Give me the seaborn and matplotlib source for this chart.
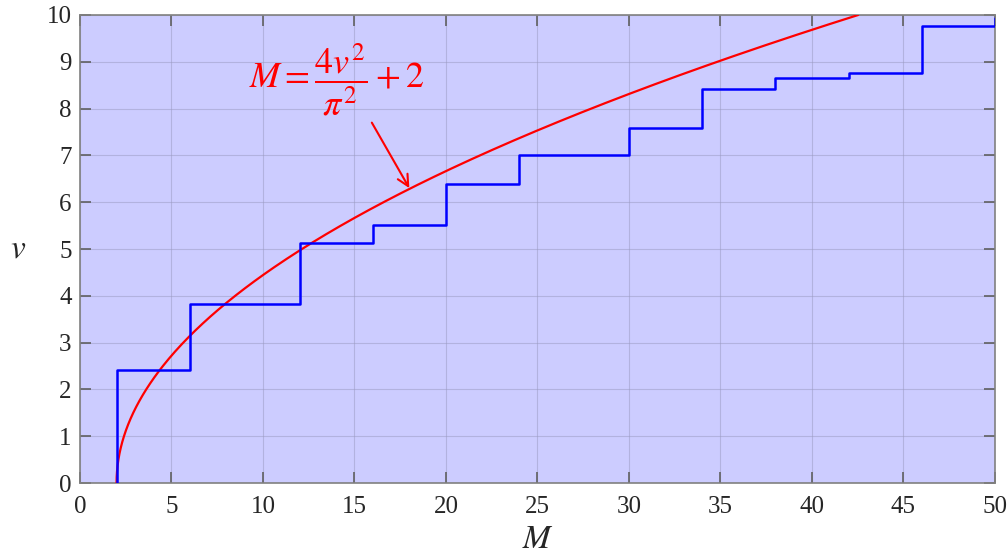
import numpy as np
import pandas as pd
import matplotlib
matplotlib.use("Agg")
import matplotlib.pyplot as plt
import seaborn as sns

# mode counts (M) and cutoff values (v)
step_M = [2, 2, 6, 12, 16, 20, 24, 30, 34, 38, 42, 46, 50]
step_v = [0, 2.405, 3.832, 5.136, 5.520, 6.380, 7.016, 7.588, 8.417, 8.654, 8.771, 9.761, 9.936]

# red curve: M = 4 v^2 / pi^2 + 2
curve_v = np.linspace(0, 10, 400)
curve_M = 4 * curve_v ** 2 / np.pi ** 2 + 2

x_ticks = [0, 5, 10, 15, 20, 25, 30, 35, 40, 45, 50]
y_ticks = [0, 1, 2, 3, 4, 5, 6, 7, 8, 9, 10]

sns.set_style("ticks")
plt.rcParams["font.family"] = ["Liberation Serif", "DejaVu Serif"]
plt.rcParams["mathtext.fontset"] = "stix"

steps = pd.DataFrame({"M": step_M, "v": step_v})
curve = pd.DataFrame({"M": curve_M, "v": curve_v})

fig = plt.figure(figsize=(10.07, 5.55), dpi=100)
ax = fig.add_axes([0.0794, 0.1297, 0.9086, 0.8433])
ax.set_facecolor("#ccccff")

sns.lineplot(data=curve, x="M", y="v", sort=False, estimator=None,
             color="#ff0000", linewidth=1.6, ax=ax, zorder=3)
sns.lineplot(data=steps, x="M", y="v", sort=False, estimator=None,
             drawstyle="steps-post", color="#0000ff", linewidth=1.8, ax=ax, zorder=4)

ax.set_xlim(0, 50)
ax.set_ylim(0, 10)
ax.set_xticks(x_ticks)
ax.set_yticks(y_ticks)
ax.grid(True, color="#9a9ac0", linewidth=0.8, alpha=0.5)
ax.tick_params(direction="in", length=8, width=1.2, color="#606060",
               top=True, right=True, labelsize=18)
ax.tick_params(axis="x", pad=9)
ax.tick_params(axis="y", pad=6)
for sp in ax.spines.values():
    sp.set_color("#808080")
    sp.set_linewidth(1.2)

ax.set_xlabel("$M$", fontsize=24, va="center", ha="center")
ax.set_ylabel("$v$", fontsize=24, rotation=0, va="center", ha="center")
ax.xaxis.set_label_coords(0.5, -0.122)
ax.yaxis.set_label_coords(-0.068, 0.5)

ax.text(14.05, 8.62, r"$M=\dfrac{4v^2}{\pi^2}+2$", fontsize=26,
        color="#ff0000", ha="center", va="center")
ax.annotate("", xy=(18.0, 6.3), xytext=(15.95, 7.7),
            arrowprops=dict(arrowstyle="->", color="#ff0000", lw=1.5,
                            shrinkA=0, shrinkB=0, mutation_scale=20))

fig.savefig("out.png", dpi=100)
